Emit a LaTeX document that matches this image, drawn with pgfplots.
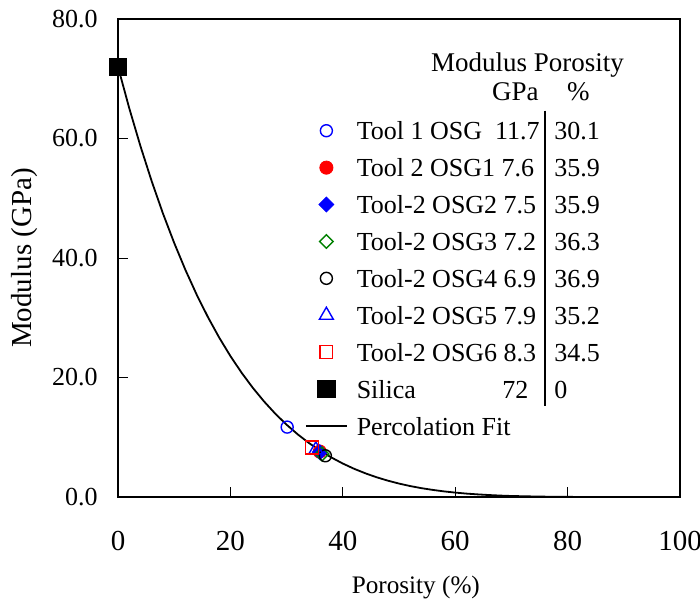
\documentclass[border=0pt]{standalone}
\usepackage{pgfplots}
\pgfplotsset{compat=1.18}
\usepackage{fontspec}
\setmainfont{Liberation Serif}
\newcommand{\lrow}[2]{\makebox[98.75pt][l]{#1}#2}
\begin{document}
\begin{tikzpicture}
\useasboundingbox (0,0) rectangle (350pt,303pt);
\begin{axis}[
  at={(59pt,54.5pt)}, anchor=south west,
  scale only axis, width=281pt, height=239pt,
  xmin=0, xmax=100, ymin=0, ymax=80,
  xtick={0,20,40,60,80,100}, ytick={0,20,40,60,80},
  xtick pos=bottom, ytick pos=left, tick align=inside,
  major tick length=5pt,
  every tick/.style={black, line width=0.5pt},
  axis line style={line width=1pt},
  /pgf/number format/assume math mode=true,
  yticklabel style={/pgf/number format/.cd, fixed, fixed zerofill, precision=1, /tikz/.cd,
    font=\fontsize{13}{15}\selectfont, inner sep=0pt, xshift=-10pt},
  xticklabel style={font=\fontsize{14.5}{16}\selectfont, inner sep=0pt, anchor=north, yshift=-16.8pt},
  xlabel={Porosity (\%)},
  xlabel style={font=\fontsize{12.6}{14}\selectfont, at={(axis description cs:0.530,-0.2017)}, anchor=base},
  ylabel={Modulus (GPa)},
  ylabel style={font=\fontsize{14.5}{16}\selectfont, at={(axis description cs:-0.1536,0.5)}, anchor=base},
  legend image code/.code={\draw[mark repeat=2,mark phase=2,#1] plot coordinates {(0pt,0pt) (10.25pt,0pt) (20.5pt,0pt)};},
  legend cell align=left,
  legend style={at={(0.3327,0.7981)}, anchor=north west, draw=none, fill=none,
    inner sep=0pt, outer sep=0pt, row sep=3.25pt, column sep=4.5pt,
    font=\fontsize{13}{15}\selectfont,
    nodes={inner sep=0pt, text height=12.2pt, text depth=3pt}},
]
\addplot[only marks, blue, mark=o, mark size=3pt, mark options={line width=0.7pt}] coordinates {(30.1,11.7)};
\addlegendentry{\lrow{Tool 1 OSG\ \ 11.7}{30.1}}
\addplot[only marks, red, mark=*, mark size=3.3pt, mark options={fill=red}] coordinates {(35.9,7.6)};
\addlegendentry{\lrow{Tool 2 OSG1 7.6}{35.9}}
\addplot[only marks, blue, mark=square*, mark size=2.65pt, mark options={rotate=45, fill=blue}] coordinates {(35.9,7.5)};
\addlegendentry{\lrow{Tool-2 OSG2 7.5}{35.9}}
\addplot[only marks, green!50!black, mark=square, mark size=2.4pt, mark options={rotate=45, line width=0.7pt}] coordinates {(36.3,7.2)};
\addlegendentry{\lrow{Tool-2 OSG3 7.2}{36.3}}
\addplot[only marks, black, mark=o, mark size=3pt, mark options={line width=0.7pt}] coordinates {(36.9,6.9)};
\addlegendentry{\lrow{Tool-2 OSG4 6.9}{36.9}}
\addplot[only marks, blue, mark=triangle, mark size=4pt, mark options={line width=0.7pt}] coordinates {(35.2,7.9)};
\addlegendentry{\lrow{Tool-2 OSG5 7.9}{35.2}}
\addplot[only marks, red, mark=square, mark size=3.2pt, mark options={line width=0.7pt}] coordinates {(34.5,8.3)};
\addlegendentry{\lrow{Tool-2 OSG6 8.3}{34.5}}
\addplot[only marks, black, mark=square*, mark size=4.4pt] coordinates {(0,72)};
\addlegendentry{\lrow{\makebox[85.8pt][l]{Silica\hfill 72}}{0}}
\addplot[black, line width=0.9pt, no marks] coordinates {
(0,72) (2,65.08) (4,58.71) (6,52.84) (8,47.45) (10,42.52) (12,38.00) (14,33.87)
(16,30.11) (18,26.69) (20,23.59) (22,20.79) (24,18.26) (26,15.98) (28,13.93)
(30,12.10) (32,10.47) (34,9.02) (36,7.73) (38,6.60) (40,5.60) (42,4.73) (44,3.97)
(46,3.31) (48,2.74) (50,2.25) (52,1.83) (54,1.48) (56,1.19) (58,0.94) (60,0.74)
(62,0.57) (64,0.44) (66,0.33) (68,0.24) (70,0.17) (75,0.07) (80,0.02) (90,0.00) (100,0.00)};
\addlegendentry{Percolation Fit}
\draw[line width=0.6pt] (axis cs:75.98,64.65) -- (axis cs:75.98,15.23);
\node[anchor=base west, inner sep=0pt, font=\fontsize{13.5}{15}\selectfont] at (axis cs:55.64,71.18) {Modulus Porosity};
\node[anchor=base west, inner sep=0pt, font=\fontsize{13.5}{15}\selectfont] at (axis cs:66.49,66.44) {GPa};
\node[anchor=base west, inner sep=0pt, font=\fontsize{13.5}{15}\selectfont] at (axis cs:79.84,66.44) {\%};
\end{axis}
\end{tikzpicture}
\end{document}
